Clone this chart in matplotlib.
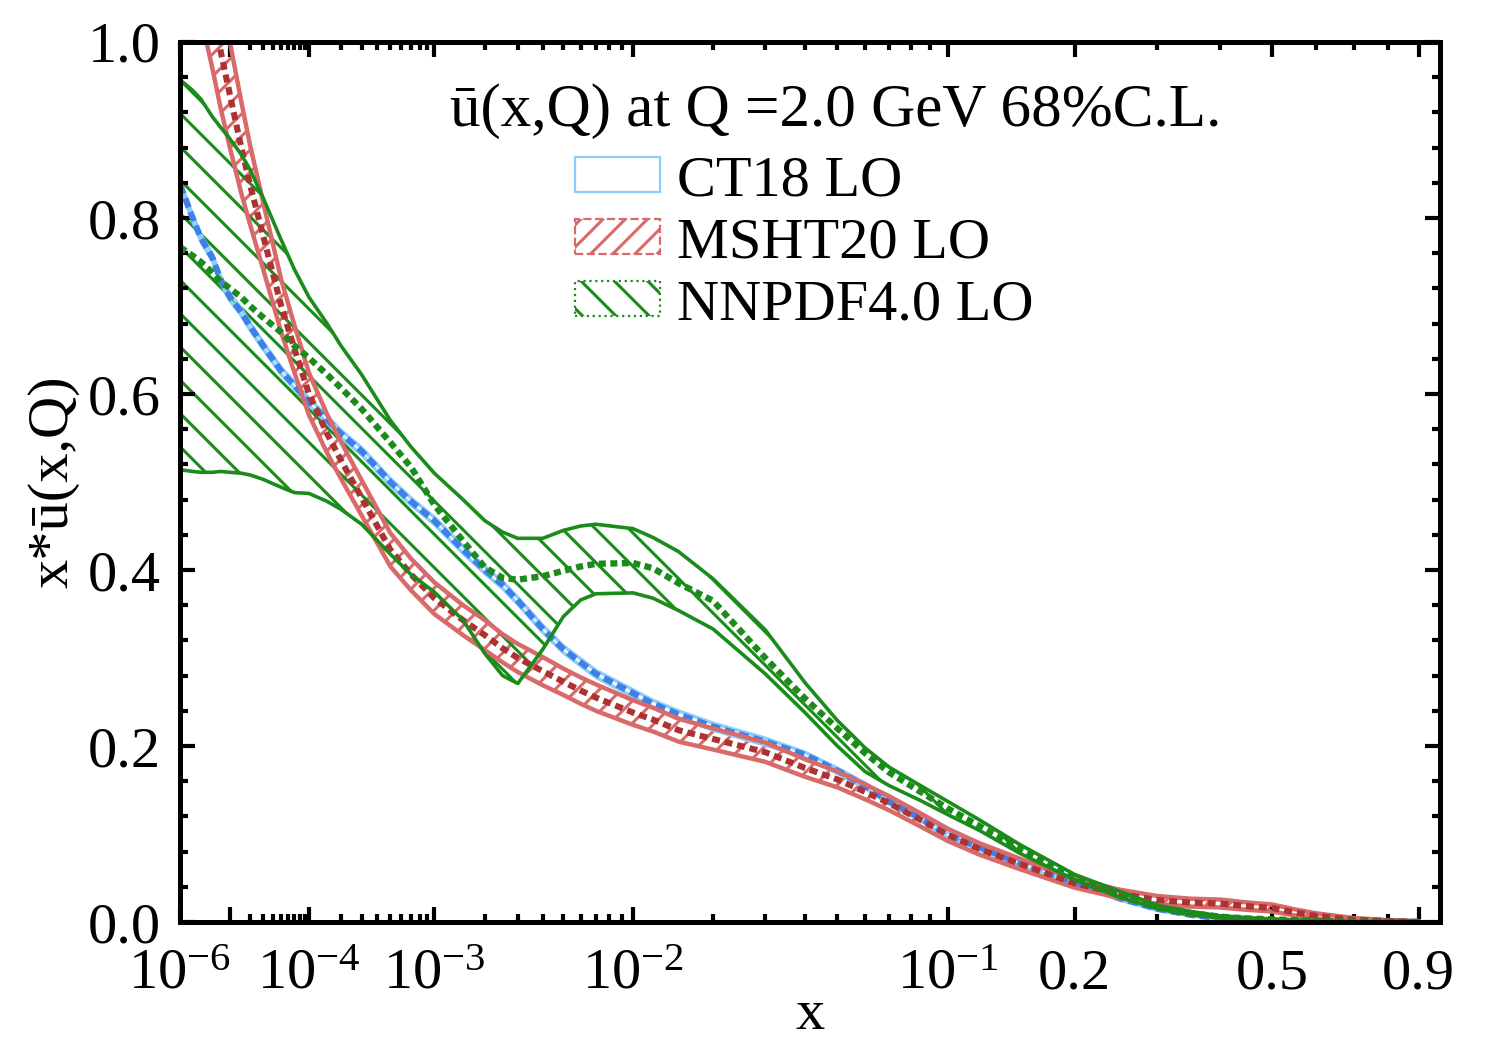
import numpy as np
import matplotlib
matplotlib.use("Agg")
import matplotlib.pyplot as plt
from matplotlib.patches import Patch
from matplotlib.ticker import FixedLocator, FixedFormatter, MultipleLocator, FormatStrFormatter

plt.rcParams["font.family"] = ["Liberation Serif", "DejaVu Serif"]
plt.rcParams["mathtext.fontset"] = "custom"
plt.rcParams["mathtext.rm"] = "Liberation Serif"
plt.rcParams["mathtext.it"] = "Liberation Serif:italic"
plt.rcParams["hatch.linewidth"] = 1.1

# x grid
x = np.array([1e-6, 2e-6, 3e-6, 5e-6, 7e-6, 1e-5, 1.5e-5, 2e-5, 3e-5, 5e-5,
              7e-5, 1e-4, 1.5e-4, 2e-4, 3e-4, 5e-4, 7e-4, 1e-3, 1.5e-3, 2e-3,
              2.5e-3, 3e-3, 4e-3, 5e-3, 6e-3, 7e-3, 1e-2, 1.2e-2, 1.5e-2, 2e-2,
              3e-2, 4e-2, 5e-2, 6e-2, 7e-2, 8.5e-2, 0.1, 0.12, 0.15, 0.2,
              0.25, 0.3, 0.35, 0.4, 0.45, 0.5, 0.55, 0.6, 0.7, 0.8, 0.9])

# CT18 LO: central value and (thin) half width
ct18_c = np.array([0.838, 0.800, 0.777, 0.755, 0.730, 0.710, 0.693, 0.677, 0.655, 0.626,
                   0.610, 0.591, 0.571, 0.555, 0.535, 0.500, 0.478, 0.456, 0.423, 0.400,
                   0.383, 0.365, 0.333, 0.310, 0.295, 0.282, 0.260, 0.248, 0.236, 0.222,
                   0.205, 0.190, 0.172, 0.155, 0.137, 0.118, 0.099, 0.085, 0.067, 0.045,
                   0.027, 0.015, 0.008, 0.004, 0.0025, 0.0012, 0.0008, 0.0005, 0.0002, 0.0001, 0.0])
ct18_e = np.array([0.004, 0.004, 0.004, 0.004, 0.004, 0.004, 0.004, 0.004, 0.004, 0.004,
                   0.004, 0.004, 0.004, 0.004, 0.004, 0.004, 0.004, 0.004, 0.004, 0.004,
                   0.004, 0.004, 0.004, 0.004, 0.004, 0.004, 0.004, 0.004, 0.004, 0.004,
                   0.004, 0.003, 0.003, 0.003, 0.003, 0.003, 0.003, 0.003, 0.003, 0.002,
                   0.002, 0.002, 0.001, 0.001, 0.001, 0.001, 0.0005, 0.0005, 0.0002, 0.0001, 0.0])

# MSHT20 LO: central value and half width
msht_c = np.array([1.25, 1.16, 1.105, 1.04, 0.99, 0.94, 0.88, 0.838, 0.78, 0.70,
                   0.652, 0.600, 0.555, 0.525, 0.482, 0.423, 0.395, 0.368, 0.343, 0.326,
                   0.311, 0.300, 0.285, 0.273, 0.263, 0.255, 0.238, 0.230, 0.218, 0.208,
                   0.193, 0.175, 0.162, 0.148, 0.135, 0.116, 0.099, 0.083, 0.066, 0.044,
                   0.032, 0.025, 0.022, 0.021, 0.018, 0.016, 0.011, 0.007, 0.0025, 0.0012, 0.0003])
msht_e = np.array([0.090, 0.080, 0.077, 0.070, 0.065, 0.060, 0.052, 0.045, 0.038, 0.030,
                   0.027, 0.024, 0.022, 0.021, 0.020, 0.019, 0.018, 0.018, 0.017, 0.017,
                   0.016, 0.016, 0.016, 0.015, 0.015, 0.015, 0.014, 0.0135, 0.013, 0.012,
                   0.011, 0.010, 0.009, 0.0085, 0.008, 0.0075, 0.007, 0.0065, 0.006, 0.005,
                   0.0048, 0.0045, 0.0045, 0.0045, 0.0042, 0.004, 0.0035, 0.003, 0.002, 0.001, 0.0005])

# NNPDF4.0 LO: central value, upper and lower edge
nnpdf_c = np.array([0.767, 0.757, 0.750, 0.738, 0.728, 0.720, 0.710, 0.700, 0.687, 0.670,
                    0.655, 0.641, 0.622, 0.607, 0.583, 0.545, 0.517, 0.474, 0.433, 0.403,
                    0.391, 0.389, 0.393, 0.399, 0.404, 0.407, 0.408, 0.402, 0.385, 0.365,
                    0.300, 0.254, 0.220, 0.192, 0.170, 0.148, 0.129, 0.109, 0.083, 0.051,
                    0.030, 0.017, 0.010, 0.006, 0.004, 0.003, 0.002, 0.0012, 0.0005, 0.0002, 0.0])
nnpdf_hi = np.array([0.957, 0.945, 0.935, 0.915, 0.903, 0.890, 0.872, 0.855, 0.823, 0.775,
                     0.742, 0.710, 0.680, 0.655, 0.622, 0.570, 0.540, 0.510, 0.480, 0.456,
                     0.443, 0.436, 0.436, 0.445, 0.450, 0.452, 0.447, 0.437, 0.421, 0.390,
                     0.332, 0.272, 0.229, 0.198, 0.176, 0.155, 0.137, 0.116, 0.088, 0.054,
                     0.035, 0.019, 0.012, 0.007, 0.005, 0.0035, 0.0025, 0.0015, 0.0006, 0.0002, 0.0])
nnpdf_lo = np.array([0.514, 0.512, 0.511, 0.511, 0.512, 0.511, 0.510, 0.508, 0.503, 0.494,
                     0.488, 0.487, 0.478, 0.469, 0.452, 0.418, 0.395, 0.375, 0.343, 0.305,
                     0.280, 0.271, 0.310, 0.347, 0.366, 0.373, 0.374, 0.368, 0.354, 0.333,
                     0.282, 0.238, 0.200, 0.171, 0.155, 0.138, 0.122, 0.104, 0.078, 0.048,
                     0.028, 0.015, 0.008, 0.005, 0.0035, 0.0025, 0.0015, 0.001, 0.0004, 0.0001, 0.0])

xticks_major = [1e-6, 1e-5, 1e-4, 1e-3, 1e-2, 0.1, 0.2, 0.5, 0.9]
xtick_labels = [r"$10^{-6}$", "", r"$10^{-4}$", r"$10^{-3}$", r"$10^{-2}$",
                r"$10^{-1}$", "0.2", "0.5", "0.9"]
xticks_minor = ([k * 1e-5 for k in range(2, 10)] + [k * 1e-4 for k in range(2, 10)]
                + [k * 1e-3 for k in range(2, 10)] + [k * 1e-2 for k in range(2, 10)]
                + [0.3, 0.4, 0.6, 0.7, 0.8])

c_blue = "#3f80e8"
c_lblue = "#8ccefa"
c_red = "#d86a6a"
c_dred = "#ad3232"
c_green = "#1b8c1b"

fig = plt.figure(figsize=(7.5, 5.25), dpi=200)
ax = fig.add_axes([0.12, 0.1219, 0.84, 0.8381])
ax.set_xscale("function", functions=(lambda v: np.power(np.abs(v), 0.2),
                                      lambda v: np.power(v, 5.0)))

# CT18
ax.plot(x, ct18_c + ct18_e, color=c_lblue, lw=1.2)
ax.plot(x, ct18_c - ct18_e, color=c_lblue, lw=1.2)
ax.plot(x, ct18_c, color=c_blue, lw=2.2, dashes=(1.6, 0.8))

# MSHT20
ax.fill_between(x, msht_c - msht_e, msht_c + msht_e, facecolor="none",
                edgecolor=c_red, hatch="///", linewidth=0)
ax.plot(x, msht_c + msht_e, color=c_red, lw=1.6)
ax.plot(x, msht_c - msht_e, color=c_red, lw=1.6)
ax.plot(x, msht_c, color=c_dred, lw=2.2, dashes=(1.3, 0.8))

# NNPDF4.0
ax.fill_between(x, nnpdf_lo, nnpdf_hi, facecolor="none",
                edgecolor=c_green, hatch="\\\\", linewidth=0)
ax.plot(x, nnpdf_hi, color=c_green, lw=1.3)
ax.plot(x, nnpdf_lo, color=c_green, lw=1.3)
ax.plot(x, nnpdf_c, color=c_green, lw=2.3, dashes=(1.1, 0.7))

ax.set_xlim(1e-6, 0.975)
ax.set_ylim(0.0, 1.0)

ax.xaxis.set_major_locator(FixedLocator(xticks_major))
ax.xaxis.set_major_formatter(FixedFormatter(xtick_labels))
ax.xaxis.set_minor_locator(FixedLocator(xticks_minor))
ax.yaxis.set_major_locator(MultipleLocator(0.2))
ax.yaxis.set_minor_locator(MultipleLocator(0.04))
ax.yaxis.set_major_formatter(FormatStrFormatter("%.1f"))

ax.tick_params(which="both", direction="in", top=True, right=True,
               width=1.5, labelsize=21)
ax.tick_params(which="major", length=5.5)
ax.tick_params(which="minor", length=2.8)
ax.tick_params(axis="x", which="major", pad=9.5)
ax.tick_params(axis="y", which="major", pad=7)
for s in ax.spines.values():
    s.set_linewidth(1.8)

ax.set_xlabel("x", fontsize=21, labelpad=-4)
ax.set_ylabel("x*ū(x,Q)", fontsize=21, labelpad=3)

ax.text(0.214, 0.921, "ū(x,Q) at Q =2.0 GeV 68%C.L.", transform=ax.transAxes,
        fontsize=22, va="center", ha="left")

handles = [
    Patch(facecolor="white", edgecolor=c_lblue, lw=0.8),
    Patch(facecolor="none", edgecolor=c_red, hatch="///", linestyle="--", lw=0.8),
    Patch(facecolor="none", edgecolor=c_green, hatch="\\\\", linestyle=":", lw=0.8),
]
labels = ["CT18 LO", "MSHT20 LO", "NNPDF4.0 LO"]
ax.legend(handles, labels, loc="upper left", bbox_to_anchor=(0.3135, 0.871),
          frameon=False, fontsize=21, handlelength=1.45, handleheight=0.55,
          handletextpad=0.3, labelspacing=0.17, borderpad=0, borderaxespad=0)

fig.savefig("out.png", dpi=200)
